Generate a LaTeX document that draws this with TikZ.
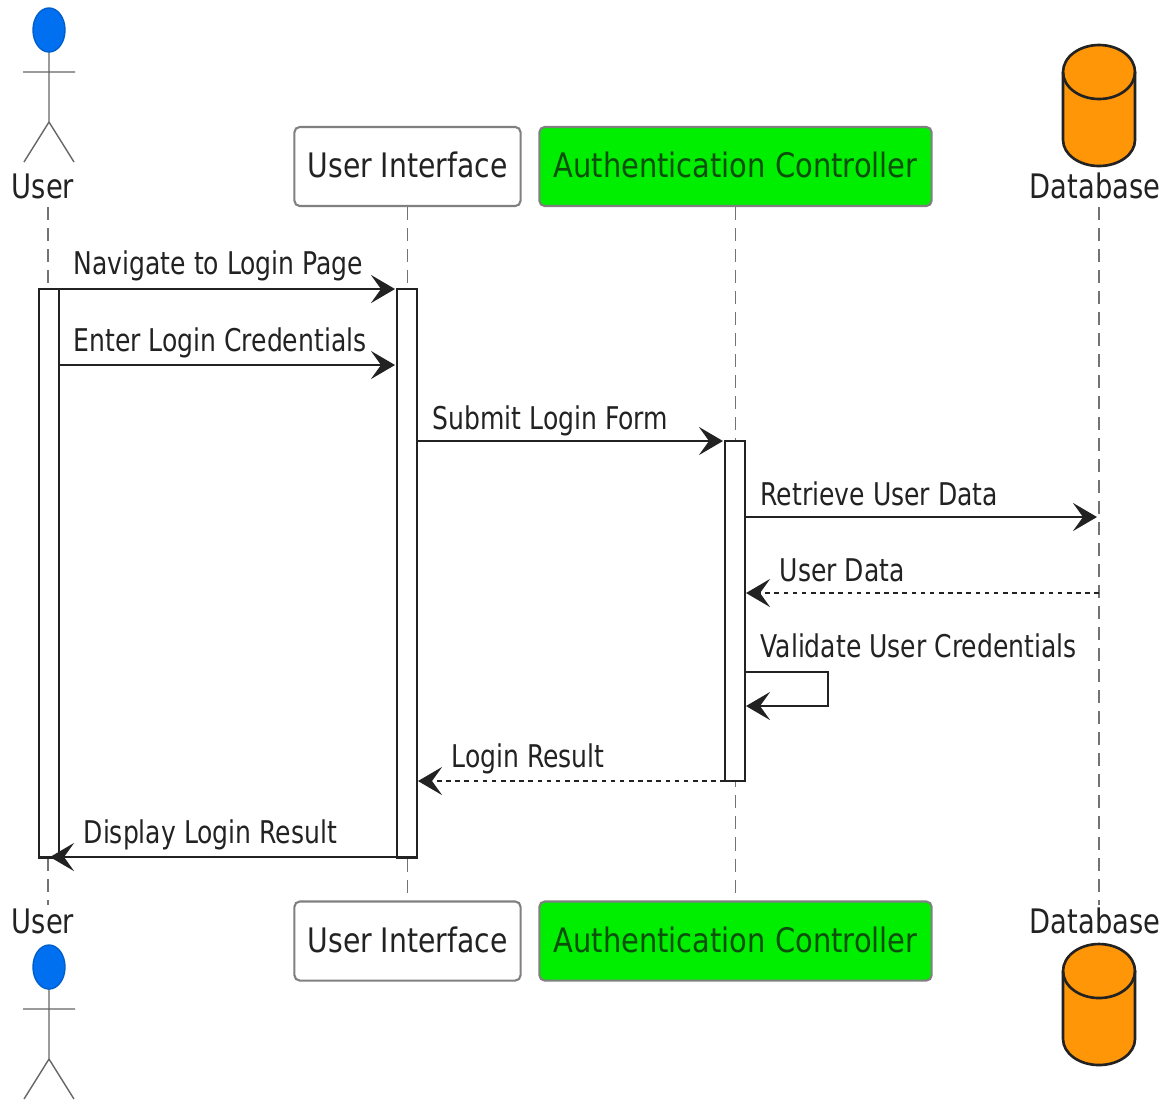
\documentclass[tikz,border=0pt]{standalone}
\usepackage{fontspec}
\setmainfont{DejaVu Sans Condensed}
\newfontfamily\boxfont{DejaVu Sans Condensed}[FakeStretch=0.93]
\newfontfamily\authfont{DejaVu Sans Condensed}[FakeStretch=0.953]
\newfontfamily\actorfont{DejaVu Sans Condensed}[FakeStretch=0.90]
\newfontfamily\msgfont{DejaVu Sans Condensed}[FakeStretch=0.89]
\usetikzlibrary{arrows.meta,shapes.geometric}
\definecolor{headblue}{HTML}{0070F0}
\definecolor{boxgreen}{HTML}{00EE00}
\definecolor{canorange}{HTML}{FF9608}
\definecolor{inkgray}{HTML}{222222}
\definecolor{greenink}{HTML}{0B4F0B}
\tikzset{
    participant/.style={draw=black!50, rounded corners=1.5pt, line width=0.6pt, minimum width=#1, minimum height=0.79cm, inner sep=0pt, text height=0.26cm, text depth=0.04cm, font=\boxfont\fontsize{9.6}{11}\selectfont, text=inkgray},
    authbox/.style={participant=3.92cm, fill=boxgreen, text=greenink, font=\authfont\fontsize{9.6}{11}\selectfont},
    actorlabel/.style={inner sep=0pt, anchor=base, font=\actorfont\fontsize{9.6}{11}\selectfont, text=inkgray},
    msglabel/.style={inner sep=0pt, anchor=base west, font=\msgfont\fontsize{8.9}{11}\selectfont, text=inkgray},
    lifeline/.style={draw=black!55, line width=0.4pt, dash pattern=on 0.13cm off 0.08cm},
    activebar/.style={draw=inkgray, fill=white, line width=0.75pt, minimum width=0.2cm, minimum height=#1, inner sep=0pt},
    msg/.style={draw=inkgray, line width=0.75pt, -{Stealth[length=0.24cm, width=0.28cm, inset=0.1cm]}},
    reply/.style={msg, dash pattern=on 1.3pt off 1.3pt},
    actor/.pic={
        \draw[black!60, line width=0.4pt] (0,22) -- (0,92) (-26,42) -- (26,42) (-25,132) -- (0,92) -- (25,132);
        \node[draw=headblue!85!black, fill=headblue, ellipse, minimum width=0.32cm, minimum height=0.44cm, inner sep=0pt] (-head) at (0,0) {};
    },
    database/.pic={
        \draw[draw=inkgray, fill=canorange, line width=0.75pt] (-36,0) arc[start angle=180, end angle=360, x radius=36, y radius=27] -- (36,68) arc[start angle=0, end angle=180, x radius=36, y radius=26] -- cycle;
        \draw[inkgray, line width=0.75pt] (-36,0) arc[start angle=180, end angle=0, x radius=36, y radius=27];
    }
}
\begin{document}
\begin{tikzpicture}[x=0.01cm, y=-0.01cm]
    \useasboundingbox (0,0) rectangle (1171,1099);
    % participants, top row
    \node[actorlabel] (usertop) at (43,198) {User};
    \node[participant=2.26cm] (uitop) at (407.5,166.5) {User Interface};
    \node[authbox] (authtop) at (735.5,166.5) {Authentication Controller};
    \node[actorlabel] (dbtop) at (1095,198) {Database};
    % participants, bottom row
    \node[actorlabel] (userbot) at (43,933) {User};
    \node[participant=2.26cm] (uibot) at (407.5,941) {User Interface};
    \node[authbox] (authbot) at (735.5,941) {Authentication Controller};
    \node[actorlabel] (dbbot) at (1095,933) {Database};
    \pic (actortop) at (49,30) {actor};
    \pic (actorbot) at (49,967) {actor};
    \pic at (1099,72) {database};
    \pic at (1099,971) {database};
    % lifelines
    \coordinate (ustart) at (48,207);
    \coordinate (uend) at (48,905);
    \coordinate (dstart) at (1099,207);
    \coordinate (dend) at (1099,905);
    \draw[lifeline] (ustart) -- (uend);
    \draw[lifeline] (uitop.south) -- (uibot.north);
    \draw[lifeline] (authtop.south) -- (authbot.north);
    \draw[lifeline] (dstart) -- (dend);
    % activations
    \node[activebar=5.68cm] (baruser) at (49,573) {};
    \node[activebar=5.68cm] (barui) at (407,573) {};
    \node[activebar=3.40cm] (barauth) at (735,611) {};
    % messages
    \coordinate (m1a) at (39,289);
    \coordinate (m1b) at (395,289);
    \coordinate (m2a) at (59,365);
    \coordinate (m2b) at (395,365);
    \coordinate (m3a) at (417,441);
    \coordinate (m3b) at (723,441);
    \coordinate (m4a) at (745,517);
    \coordinate (m4b) at (1097,517);
    \coordinate (m5a) at (1099,593);
    \coordinate (m5b) at (746,593);
    \coordinate (m6a) at (745,672);
    \coordinate (m6b) at (828,672);
    \coordinate (m6c) at (828,706);
    \coordinate (m6d) at (746,706);
    \coordinate (m7a) at (725,781);
    \coordinate (m7b) at (418,781);
    \coordinate (m8a) at (397,857);
    \coordinate (m8b) at (50,857);
    \draw[msg] (m1a) -- (m1b);
    \draw[msg] (m2a) -- (m2b);
    \draw[msg] (m3a) -- (m3b);
    \draw[msg] (m4a) -- (m4b);
    \draw[reply] (m5a) -- (m5b);
    \draw[msg] (m6a) -- (m6b) -- (m6c) -- (m6d);
    \draw[reply] (m7a) -- (m7b);
    \draw[msg] (m8a) -- (m8b);
    % message labels
    \node[msglabel] (l1) at (73,274) {Navigate to Login Page};
    \node[msglabel] (l2) at (73,351) {Enter Login Credentials};
    \node[msglabel] (l3) at (432,429) {Submit Login Form};
    \node[msglabel] (l4) at (760,505) {Retrieve User Data};
    \node[msglabel] (l5) at (779,581) {User Data};
    \node[msglabel] (l6) at (760,657) {Validate User Credentials};
    \node[msglabel] (l7) at (451,767) {Login Result};
    \node[msglabel] (l8) at (83,843) {Display Login Result};
\end{tikzpicture}
\end{document}
